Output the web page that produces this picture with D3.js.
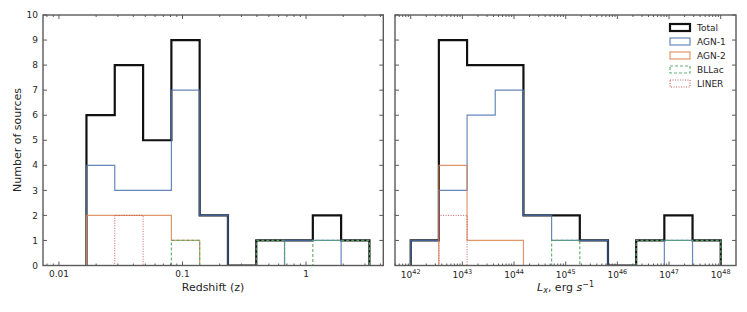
<!DOCTYPE html>
<html><head><meta charset="utf-8">
<script src="https://cdn.jsdelivr.net/npm/d3@7"></script>
<style>body{margin:0;background:#fff}svg{display:block}text{font-family:"DejaVu Sans",sans-serif;fill:#262626}</style>
</head><body><div id="chart"></div>
<script>
// ---------- data ----------
const seriesNames = ["Total","AGN-1","AGN-2","BLLac","LINER"];
// left panel: redshift bin edges and counts
const zEdges = [0.0167,0.0283,0.0480,0.0813,0.1377,0.2333,0.3954,0.6699,1.135,1.923,3.258];
const zTotal = [6,8,5,9,2,0,1,1,2,1];
const zAGN1  = [4,3,3,7,2,0,0,1,1,0];
const zAGN2  = [2,2,2,1,0,0,0,0,0,0];
const zBLLac = [0,0,0,1,0,0,1,0,1,1];
const zLINER = [0,2,0,0,0,0,0,0,0,0];
// right panel: log10(Lx) bin edges and counts
const lxEdges = [42.0,42.545,43.091,43.636,44.182,44.727,45.273,45.818,46.364,46.909,47.455,48.0];
const lxTotal = [1,9,8,8,2,2,1,0,1,2,1];
const lxAGN1  = [1,3,6,7,2,1,1,0,0,1,0];
const lxAGN2  = [0,4,1,1,0,0,0,0,0,0,0];
const lxBLLac = [0,0,0,0,0,1,0,0,1,1,1];
const lxLINER = [0,2,0,0,0,0,0,0,0,0,0];
const yTicks = [0,1,2,3,4,5,6,7,8,9,10];
const zTickLabels = ["0.01","0.1","1"];
const zTickValues = [0.01,0.1,1];
const lxTickExps = [42,43,44,45,46,47,48];

// ---------- styles ----------
const styles = {
  "Total": {color:"#111111", width:2.2, dash:null, op:1},
  "AGN-1": {color:"#4C72B0", width:1.2, dash:null, op:0.85},
  "AGN-2": {color:"#DD8452", width:1.2, dash:null, op:0.85},
  "BLLac": {color:"#55A868", width:1.2, dash:"3,2", op:0.9},
  "LINER": {color:"#C44E52", width:1.0, dash:"1,1.5", op:0.9}
};

const W=747,H=312, yTop=15, yBot=265.5;
const svg = d3.select("#chart").append("svg").attr("width",W).attr("height",H);
const y = d3.scaleLinear().domain([0,10]).range([yBot,yTop]);
const spine="#5a5a5a";

function stepPath(x, edges, counts){
  const pts=[[x(edges[0]),y(0)]];
  counts.forEach((c,i)=>{pts.push([x(edges[i]),y(c)]);pts.push([x(edges[i+1]),y(c)]);});
  pts.push([x(edges[edges.length-1]),y(0)]);
  return d3.line()(pts);
}

let clipN=0;
function panel(x0,x1,domain,edges,data){
  const x = d3.scaleLog().domain(domain).range([x0,x1]);
  const g = svg.append("g");
  const cid="clip"+(clipN++);
  svg.append("clipPath").attr("id",cid).append("rect")
     .attr("x",x0).attr("y",yTop-2).attr("width",x1-x0).attr("height",yBot-yTop+2);
  const hg=g.append("g").attr("clip-path","url(#"+cid+")");
  data.forEach((counts,i)=>{
    const s=styles[seriesNames[i]];
    hg.append("path").attr("d",stepPath(x,edges,counts)).attr("fill","none")
     .attr("stroke",s.color).attr("stroke-width",s.width).attr("stroke-opacity",s.op)
     .attr("stroke-dasharray",s.dash).attr("stroke-linejoin","miter");
  });
  const lo=Math.floor(Math.log10(domain[0])), hi=Math.ceil(Math.log10(domain[1]));
  const minors=[], majors=[];
  for(let e=lo;e<=hi;e++){for(let m=1;m<10;m++){const v=m*Math.pow(10,e); if(v>=domain[0]&&v<=domain[1]){(m===1?majors:minors).push(v);}}}
  const tg=g.append("g").attr("stroke",spine).attr("stroke-width",1);
  minors.forEach(v=>{const px=x(v);
    tg.append("line").attr("x1",px).attr("x2",px).attr("y1",yBot).attr("y2",yBot-2);
    tg.append("line").attr("x1",px).attr("x2",px).attr("y1",yTop).attr("y2",yTop+2);});
  majors.forEach(v=>{const px=x(v);
    tg.append("line").attr("x1",px).attr("x2",px).attr("y1",yBot).attr("y2",yBot-4);
    tg.append("line").attr("x1",px).attr("x2",px).attr("y1",yTop).attr("y2",yTop+4);});
  yTicks.forEach(t=>{const py=y(t);
    tg.append("line").attr("x1",x0).attr("x2",x0+4).attr("y1",py).attr("y2",py);
    tg.append("line").attr("x1",x1).attr("x2",x1-4).attr("y1",py).attr("y2",py);});
  g.append("rect").attr("x",x0).attr("y",yTop).attr("width",x1-x0).attr("height",yBot-yTop)
   .attr("fill","none").attr("stroke",spine).attr("stroke-width",1.4);
  return {x,g};
}

// left panel
const L = panel(43,383.3,[0.00743,4.22],zEdges,[zTotal,zAGN1,zAGN2,zBLLac,zLINER]);
zTickValues.forEach((v,i)=>{
  svg.append("text").attr("x",L.x(v)).attr("y",277).attr("text-anchor","middle")
   .attr("font-size",9).text(zTickLabels[i]);
});
yTicks.forEach(t=>{
  svg.append("text").attr("x",38).attr("y",y(t)).attr("dy","0.35em").attr("text-anchor","end")
   .attr("font-size",9).text(t);
});
svg.append("text").attr("x",213).attr("y",290.5).attr("text-anchor","middle").attr("font-size",11).text("Redshift (z)");
svg.append("text").attr("transform","translate(17,140) rotate(-90)").attr("text-anchor","middle")
  .attr("dy","0.35em").attr("font-size",11).text("Number of sources");

// right panel
const R = panel(395,736,[Math.pow(10,41.696),Math.pow(10,48.296)],lxEdges.map(e=>Math.pow(10,e)),
  [lxTotal,lxAGN1,lxAGN2,lxBLLac,lxLINER]);
lxTickExps.forEach(e=>{
  const t=svg.append("text").attr("x",R.x(Math.pow(10,e))).attr("y",278).attr("text-anchor","middle").attr("font-size",9);
  t.append("tspan").text("10");
  t.append("tspan").attr("dy",-4).attr("font-size",6.5).text(e);
});
const xl=svg.append("text").attr("x",565.5).attr("y",291).attr("text-anchor","middle").attr("font-size",11);
xl.append("tspan").attr("font-style","italic").text("L");
xl.append("tspan").attr("font-style","italic").attr("font-size",8).attr("dy",2).text("x");
xl.append("tspan").attr("dy",-2).text(", erg ");
xl.append("tspan").attr("font-style","italic").text("s");
xl.append("tspan").attr("font-size",8).attr("dy",-4.5).text("\u22121");

// legend
const lg=svg.append("g");
seriesNames.forEach((n,i)=>{
  const s=styles[n], cy=27.5+i*14;
  lg.append("rect").attr("x",670).attr("y",cy-3.5).attr("width",20).attr("height",7)
    .attr("fill","none").attr("stroke",s.color).attr("stroke-width",n==="Total"?2.2:1.2)
    .attr("stroke-opacity",s.op).attr("stroke-dasharray",s.dash);
  lg.append("text").attr("x",697).attr("y",cy).attr("dy","0.35em").attr("font-size",9).text(n);
});
</script></body></html>
